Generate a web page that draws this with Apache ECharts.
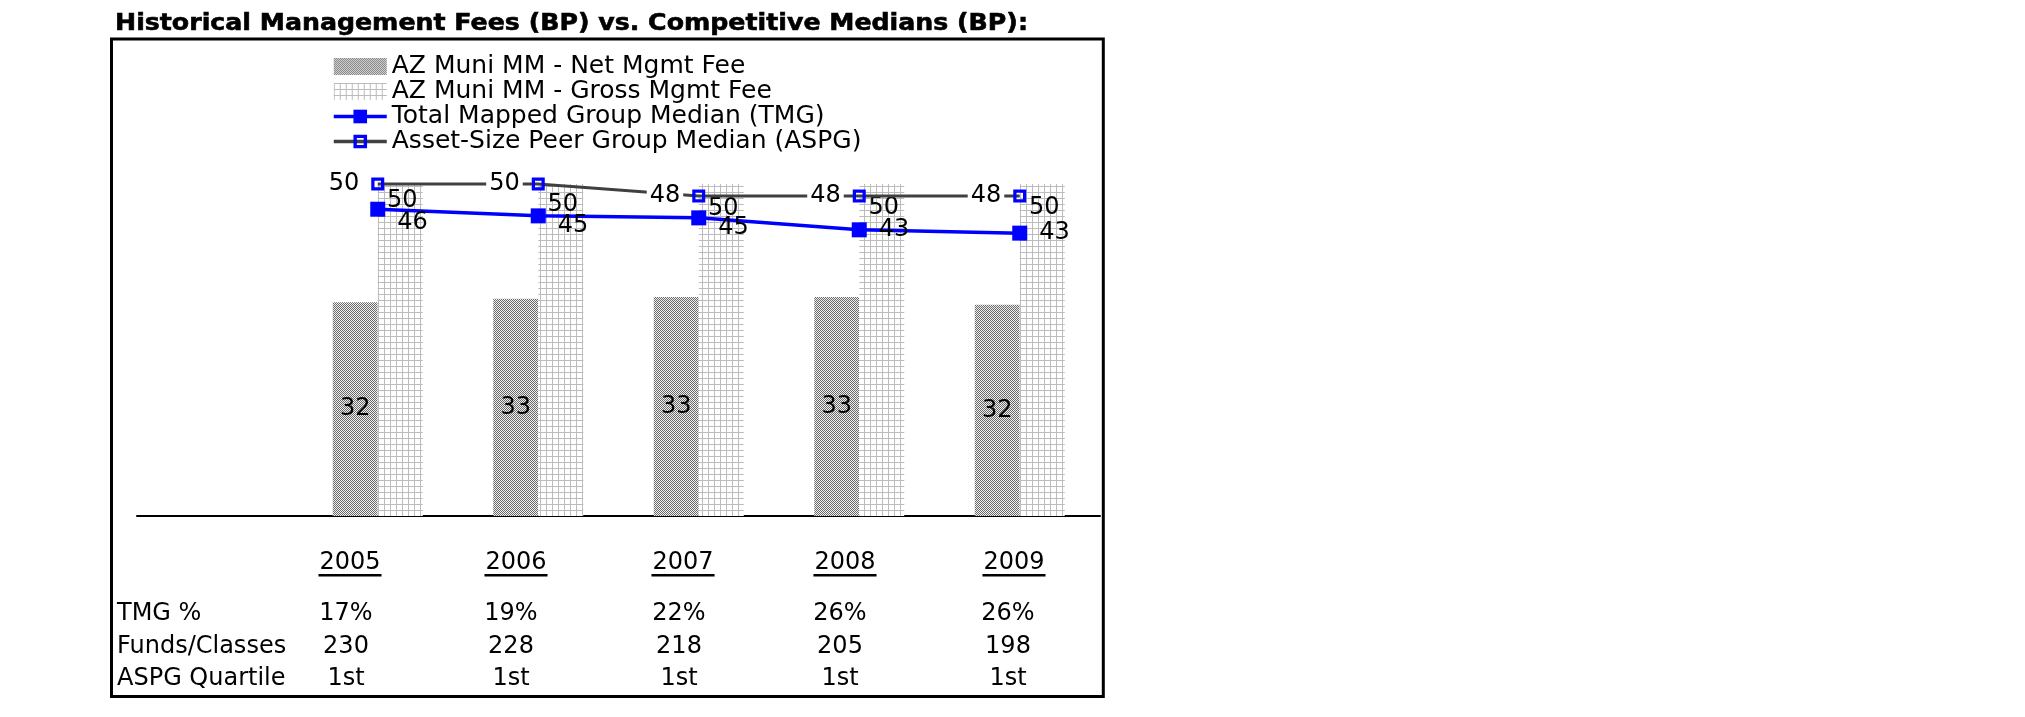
<!DOCTYPE html>
<html><head><meta charset="utf-8">
<script src="https://cdn.jsdelivr.net/npm/echarts@6/dist/echarts.min.js"></script>
<style>html,body{margin:0;padding:0;background:#fff}#c{width:2025px;height:717px}</style>
</head><body><div id="c"></div>
<script>
// ---- data ----
const years = ['2005', '2006', '2007', '2008', '2009'];
const netFee = [32.2, 32.7, 33.0, 33.0, 31.8];
const grossFee = [50, 50, 50, 50, 50];
const tmgMedian = [46.2, 45.2, 44.9, 43.1, 42.6];
const aspgMedian = [50, 50, 48.2, 48.2, 48.2];
const rowLabels = ['TMG %', 'Funds/Classes', 'ASPG Quartile'];
const tmgPct = ['17%', '19%', '22%', '26%', '26%'];
const fundsClasses = ['230', '228', '218', '205', '198'];
const aspgQuartile = ['1st', '1st', '1st', '1st', '1st'];
const seriesNames = ['AZ Muni MM - Net Mgmt Fee', 'AZ Muni MM - Gross Mgmt Fee',
  'Total Mapped Group Median (TMG)', 'Asset-Size Peer Group Median (ASPG)'];
const titleText = 'Historical Management Fees (BP) vs. Competitive Medians (BP):';

// ---- layout (not data) ----
const FONT = 'DejaVu Sans';
const FS = 24;
const tableColX = [346, 511, 679, 840, 1008];
const yearColX = [350, 516, 683, 845, 1014];
const tableRowY = [614, 647, 679];
const yearRowY = 563;
const tmgLabelDy = [14, 10, 10, 0, 0];
const grossLabelDy = [-6, -2, 2, 1, 1];

function makeNetPattern() {
  const c = document.createElement('canvas'); c.width = 4; c.height = 4;
  const g = c.getContext('2d');
  g.fillStyle = '#f0f0f0'; g.fillRect(0, 0, 4, 4);
  g.fillStyle = '#6a6a6a';
  for (let y = 0; y < 4; y++) for (let x = 0; x < 4; x++) if ((x + y) % 2 === 0) g.fillRect(x, y, 1, 1);
  return c;
}
function makeGrossPattern() {
  const c = document.createElement('canvas'); c.width = 6; c.height = 6;
  const g = c.getContext('2d');
  g.fillStyle = '#ffffff'; g.fillRect(0, 0, 6, 6);
  g.fillStyle = '#bcbcbc';
  g.fillRect(0, 0, 1, 6); g.fillRect(0, 0, 6, 1);
  return c;
}
const netPattern = { image: makeNetPattern(), repeat: 'repeat' };
const grossPattern = { image: makeGrossPattern(), repeat: 'repeat' };

const round = p => (p.value == null ? '' : String(Math.round(p.value)));
const lab = { color: '#000', fontFamily: FONT, fontSize: FS };

const hollowSquare = 'path://M0,0L12,0L12,12L0,12Z M3,3L3,9L9,9L9,3Z';

// measure text widths
const mctx = document.createElement('canvas').getContext('2d');
mctx.font = FS + 'px "' + FONT + '"';
const tctx = document.createElement('canvas').getContext('2d');
tctx.font = 'bold 23px "' + FONT + '"';
const titleScaleX = 913 / tctx.measureText(titleText).width;

const graphics = [];
graphics.push({ type: 'rect', shape: { x: 111.5, y: 39, width: 991.8, height: 657.5 },
  style: { fill: 'none', stroke: '#000', lineWidth: 3 }, silent: true });
graphics.push({ type: 'text', x: 115, y: 24, scaleX: titleScaleX, style: { text: titleText, fontFamily: FONT,
  fontSize: 23, fontWeight: 'bold', fill: '#000', stroke: '#000', lineWidth: 0.6,
  verticalAlign: 'middle', align: 'left' } });
years.forEach((yr, i) => {
  const w = mctx.measureText(yr).width;
  graphics.push({ type: 'text', x: yearColX[i], y: yearRowY, style: { text: yr, fontFamily: FONT,
    fontSize: FS, fill: '#000', align: 'center', verticalAlign: 'middle' } });
  graphics.push({ type: 'rect', shape: { x: yearColX[i] - w / 2 - 1, y: 574, width: w + 2, height: 2.5 },
    style: { fill: '#000' } });
});
const rows = [tmgPct, fundsClasses, aspgQuartile];
rowLabels.forEach((t, r) => {
  graphics.push({ type: 'text', x: 117, y: tableRowY[r], style: { text: t, fontFamily: FONT,
    fontSize: FS, fill: '#000', align: 'left', verticalAlign: 'middle' } });
  rows[r].forEach((v, i) => {
    graphics.push({ type: 'text', x: tableColX[i], y: tableRowY[r], style: { text: v, fontFamily: FONT,
      fontSize: FS, fill: '#000', align: 'center', verticalAlign: 'middle' } });
  });
});

const chart = echarts.init(document.getElementById('c'), null, { renderer: 'canvas' });
chart.setOption({
  backgroundColor: '#fff',
  animation: false,
  legend: {
    orient: 'vertical', left: 332, top: 54, padding: 0, itemGap: 0,
    itemWidth: 53, itemHeight: 17,
    lineStyle: { width: 3.5 },
    textStyle: { fontFamily: FONT, fontSize: 25, color: '#000', lineHeight: 23 },
    data: [
      { name: seriesNames[0], icon: 'rect' },
      { name: seriesNames[1], icon: 'rect' },
      { name: seriesNames[2] },
      { name: seriesNames[3] }
    ]
  },
  grid: { left: 137, right: 925, top: 117.6, bottom: 201, outerBoundsMode: 'none' },
  xAxis: {
    type: 'category', data: [''].concat(years),
    axisLine: { show: true, lineStyle: { color: '#000', width: 2 } },
    axisTick: { show: false }, axisLabel: { show: false }, splitLine: { show: false }
  },
  yAxis: { type: 'value', min: 0, max: 60, show: false, splitLine: { show: false } },
  series: [
    {
      name: seriesNames[0], type: 'bar', data: [null].concat(netFee),
      barWidth: 45, barGap: '0%', itemStyle: { color: netPattern },
      label: Object.assign({ show: true, position: 'inside', formatter: round }, lab)
    },
    {
      name: seriesNames[1], type: 'bar', data: [null].concat(grossFee.map((v, i) => ({
        value: v, label: { offset: [2, grossLabelDy[i]] } }))),
      barWidth: 45, barGap: '0%', itemStyle: { color: grossPattern },
      label: Object.assign({ show: true, position: 'insideTop', distance: 11, formatter: round }, lab)
    },
    {
      name: seriesNames[2], type: 'line', data: [null].concat(tmgMedian.map((v, i) => ({
        value: v, label: { offset: [4, tmgLabelDy[i]] } }))),
      color: '#0000ff', symbol: 'rect', symbolSize: 15,
      itemStyle: { color: '#0000ff' }, lineStyle: { color: '#0000ff', width: 3.5 },
      label: Object.assign({ show: true, position: 'right', distance: 8, formatter: round }, lab),
      z: 3
    },
    {
      name: seriesNames[3], type: 'line', data: [null].concat(aspgMedian),
      color: '#0000ff', symbol: hollowSquare, symbolSize: 13,
      itemStyle: { color: '#0000ff' }, lineStyle: { color: '#404040', width: 3 },
      label: Object.assign({ show: true, position: 'left', distance: 9, formatter: round,
        backgroundColor: '#fff', padding: [0, 3] }, lab),
      z: 4
    }
  ],
  graphic: graphics
});
</script></body></html>
